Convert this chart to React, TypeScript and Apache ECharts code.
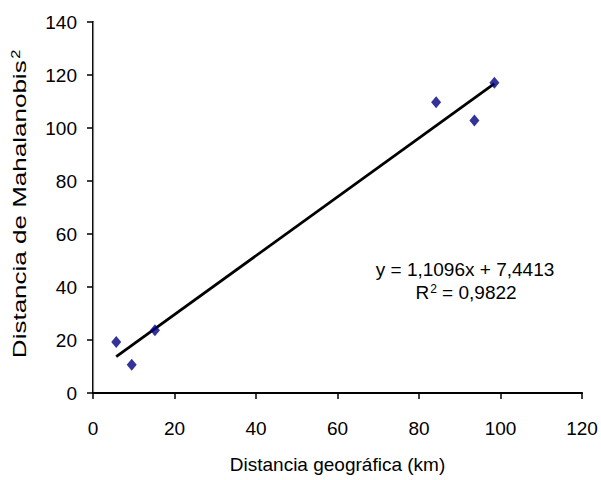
import React, { useEffect, useRef } from "react";
import * as echarts from "echarts";

const distGeo: number[] = [5.7, 9.5, 15.2, 84.2, 93.6, 98.5];
const distMaha: number[] = [19.2, 10.7, 23.7, 109.7, 102.8, 117.1];
const slope = 1.1096;
const intercept = 7.4413;
const trendX: number[] = [5.7, 98.5];
const xTicks = { min: 0, max: 120, interval: 20 };
const yTicks = { min: 0, max: 140, interval: 20 };
const eqLine1 = "y = 1,1096x + 7,4413";
const eqLine2 = "R{sup|2} = 0,9822";
const xTitle = "Distancia geográfica (km)";
const yTitle = "Distancia de Mahalanobis{sup|2}";

const FONT = "'Liberation Sans', Arial, sans-serif";

export default function App() {
  const ref = useRef<HTMLDivElement>(null);
  useEffect(() => {
    if (!ref.current) return;
    const chart = echarts.init(ref.current, null, { renderer: "svg" });
    const pts = distGeo.map((x, i) => [x, distMaha[i]]);
    const trend = trendX.map((x) => [x, slope * x + intercept]);
    chart.setOption({
      animation: false,
      backgroundColor: "#fff",
      textStyle: { fontFamily: FONT, color: "#000" },
      grid: { left: 93, top: 22, right: 19, bottom: 87 },
      xAxis: [
        {
          type: "value",
          min: xTicks.min,
          max: xTicks.max,
          interval: xTicks.interval,
          position: "bottom",
          axisLine: { show: true, lineStyle: { color: "#000", width: 2 } },
          axisTick: { show: true, inside: false, length: 6, lineStyle: { color: "#000", width: 1.5 } },
          axisLabel: { fontSize: 19, color: "#000", margin: 26, fontFamily: FONT },
          splitLine: { show: false },
          name: xTitle,
          nameLocation: "middle",
          nameGap: 62,
          nameTextStyle: { fontSize: 19, color: "#000", fontFamily: FONT },
        },
        {
          type: "value",
          min: xTicks.min,
          max: xTicks.max,
          position: "top",
          axisLine: { show: true, lineStyle: { color: "#000", width: 1.5 } },
          axisTick: { show: false },
          axisLabel: { show: false },
          splitLine: { show: false },
        },
      ],
      yAxis: [
        {
          type: "value",
          min: yTicks.min,
          max: yTicks.max,
          interval: yTicks.interval,
          position: "left",
          axisLine: { show: true, lineStyle: { color: "#000", width: 2 } },
          axisTick: { show: true, inside: false, length: 6, lineStyle: { color: "#000", width: 1.5 } },
          axisLabel: { fontSize: 19, color: "#000", margin: 16, fontFamily: FONT },
          splitLine: { show: false },
        },
        {
          type: "value",
          min: yTicks.min,
          max: yTicks.max,
          position: "right",
          axisLine: { show: true, lineStyle: { color: "#808080", width: 1.2 } },
          axisTick: { show: false },
          axisLabel: { show: false },
          splitLine: { show: false },
        },
      ],
      series: [
        {
          type: "line",
          data: trend,
          xAxisIndex: 0,
          yAxisIndex: 0,
          showSymbol: false,
          symbol: "none",
          lineStyle: { color: "#000", width: 2.8 },
          z: 2,
        },
        {
          type: "scatter",
          data: pts,
          xAxisIndex: 0,
          yAxisIndex: 0,
          symbol: "diamond",
          symbolSize: [10, 12],
          itemStyle: { color: "#000080" },
          z: 3,
        },
      ],
      graphic: [
        {
          type: "text",
          x: 19,
          y: 204,
          rotation: Math.PI / 2,
          scaleX: 1.37,
          style: {
            text: yTitle,
            fontSize: 19,
            fontFamily: FONT,
            fill: "#000",
            align: "center",
            verticalAlign: "middle",
            rich: { sup: { fontSize: 12, verticalAlign: "top", fontFamily: FONT, fill: "#000", padding: [0, 0, 4, 1] } },
          },
        },
        {
          type: "text",
          x: 465,
          y: 269,
          style: {
            text: eqLine1,
            fontSize: 19,
            fontFamily: FONT,
            fill: "#000",
            align: "center",
            verticalAlign: "middle",
          },
        },
        {
          type: "text",
          x: 466,
          y: 292,
          style: {
            text: eqLine2,
            fontSize: 19,
            fontFamily: FONT,
            fill: "#000",
            align: "center",
            verticalAlign: "middle",
            rich: { sup: { fontSize: 12, verticalAlign: "top", fontFamily: FONT, fill: "#000", padding: [0, 0, 4, 1] } },
          },
        },
      ],
    });
    return () => chart.dispose();
  }, []);
  return <div ref={ref} style={{ width: 601, height: 480, position: "absolute", left: 0, top: 0 }} />;
}
